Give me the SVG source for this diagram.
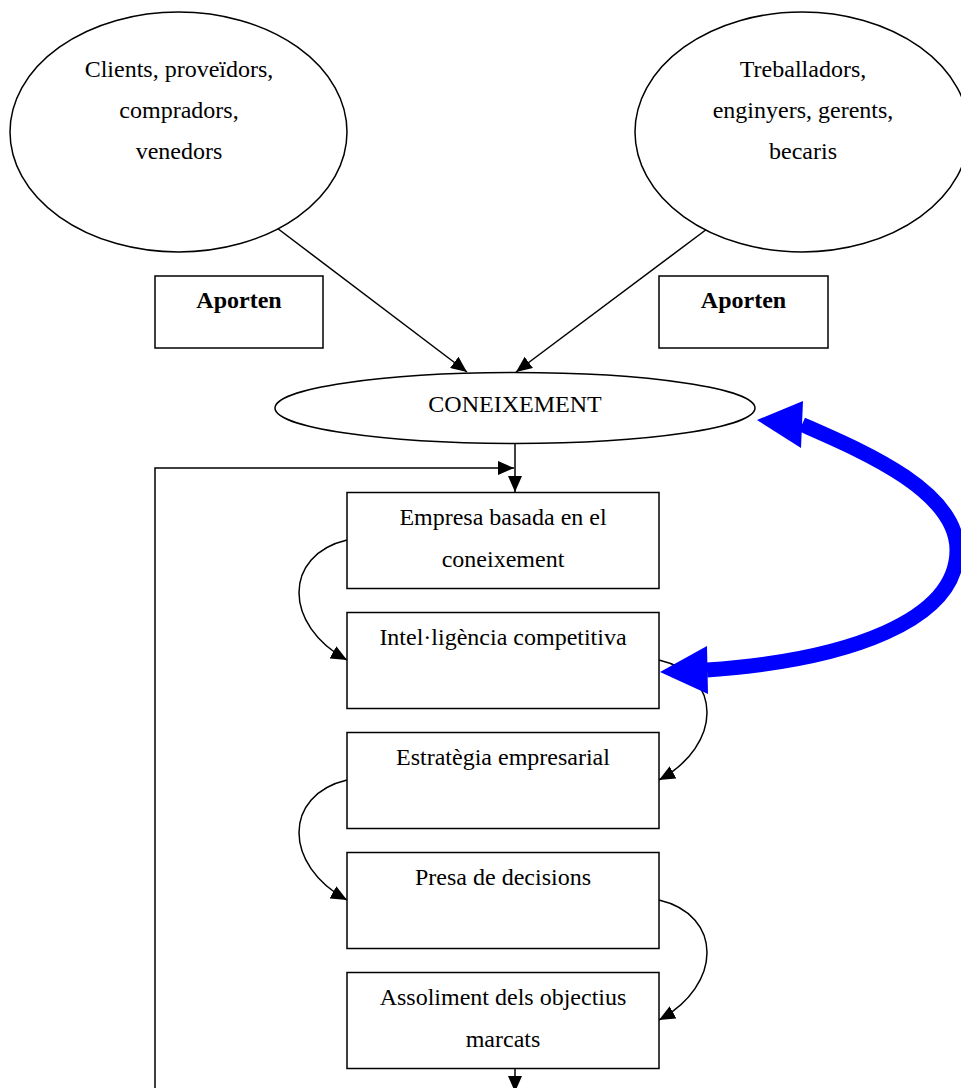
<svg xmlns="http://www.w3.org/2000/svg" width="961" height="1088" viewBox="0 0 961 1088">
<style>
  .shape { fill: #ffffff; stroke: #000000; stroke-width: 1.5; }
  .lbl { font-family: "Liberation Serif", "Times New Roman", serif; font-size: 24px; fill: #000000; text-anchor: middle; }
  .bold { font-weight: bold; }
  .conn { fill: none; stroke: #000000; stroke-width: 1.5; }
  .blue { fill: none; stroke: #0000FF; stroke-width: 15; }
  .bluehead { fill: #0000FF; stroke: none; }
</style>
<defs>
  <marker id="arrow" viewBox="0 0 16 14" refX="16" refY="7" markerWidth="16" markerHeight="14" markerUnits="userSpaceOnUse" orient="auto">
    <path d="M0,0 L16,7 L0,14 z" fill="#000000"/>
  </marker>
</defs>
<rect x="0" y="0" width="961" height="1088" fill="#ffffff"/>

<g id="connectors">
  <line class="conn" x1="277" y1="228" x2="467" y2="372" marker-end="url(#arrow)"/>
  <line class="conn" x1="707" y1="229" x2="516" y2="372" marker-end="url(#arrow)"/>
  <line class="conn" x1="515" y1="444" x2="515" y2="492" marker-end="url(#arrow)"/>
  <polyline class="conn" points="155,1090 155,468 514,468" marker-end="url(#arrow)"/>
  <path class="conn" d="M347,540 C283,555 283,625 347,660" marker-end="url(#arrow)"/>
  <path class="conn" d="M659,660 C723,675 723,745 659,780" marker-end="url(#arrow)"/>
  <path class="conn" d="M347,780 C283,795 283,865 347,900" marker-end="url(#arrow)"/>
  <path class="conn" d="M659,900 C723,915 723,985 659,1020" marker-end="url(#arrow)"/>
  <line class="conn" x1="515" y1="1069" x2="515" y2="1092" marker-end="url(#arrow)"/>
  <g id="blue-arrow">
    <path class="blue" d="M802,424.5 C860,450 957,490 957,550 C957,620 850,660 707,670"/>
    <polygon class="bluehead" points="757,420 803,401 801,448"/>
    <polygon class="bluehead" points="660,672 707,646 708,694"/>
  </g>
</g>

<g id="node-clients">
  <ellipse class="shape" cx="178.5" cy="132" rx="168.5" ry="120"/>
  <text class="lbl" x="179" y="77">Clients, proveïdors,</text>
  <text class="lbl" x="179" y="118">compradors,</text>
  <text class="lbl" x="179" y="159">venedors</text>
</g>

<g id="node-treballadors">
  <ellipse class="shape" cx="802" cy="132" rx="167" ry="120"/>
  <text class="lbl" x="803" y="77">Treballadors,</text>
  <text class="lbl" x="803" y="118">enginyers, gerents,</text>
  <text class="lbl" x="803" y="159">becaris</text>
</g>

<g id="node-aporten-left">
  <rect class="shape" x="155" y="276" width="168" height="72"/>
  <text class="lbl bold" x="239" y="308">Aporten</text>
</g>

<g id="node-aporten-right">
  <rect class="shape" x="659" y="276" width="169" height="72"/>
  <text class="lbl bold" x="743.5" y="308">Aporten</text>
</g>

<g id="node-coneixement">
  <ellipse class="shape" cx="515" cy="408" rx="240" ry="35.5"/>
  <text class="lbl" x="515" y="412">CONEIXEMENT</text>
</g>

<g id="node-empresa">
  <rect class="shape" x="347" y="492.5" width="312" height="96"/>
  <text class="lbl" x="503" y="525">Empresa basada en el</text>
  <text class="lbl" x="503" y="566.5">coneixement</text>
</g>

<g id="node-intel">
  <rect class="shape" x="347" y="612.5" width="312" height="96"/>
  <text class="lbl" x="503" y="644.5">Intel·ligència competitiva</text>
</g>

<g id="node-estrategia">
  <rect class="shape" x="347" y="732.5" width="312" height="96"/>
  <text class="lbl" x="503" y="765">Estratègia empresarial</text>
</g>

<g id="node-presa">
  <rect class="shape" x="347" y="852.5" width="312" height="96"/>
  <text class="lbl" x="503" y="885">Presa de decisions</text>
</g>

<g id="node-assoliment">
  <rect class="shape" x="347" y="972.5" width="312" height="96"/>
  <text class="lbl" x="503" y="1005">Assoliment dels objectius</text>
  <text class="lbl" x="503" y="1046.5">marcats</text>
</g>
</svg>
